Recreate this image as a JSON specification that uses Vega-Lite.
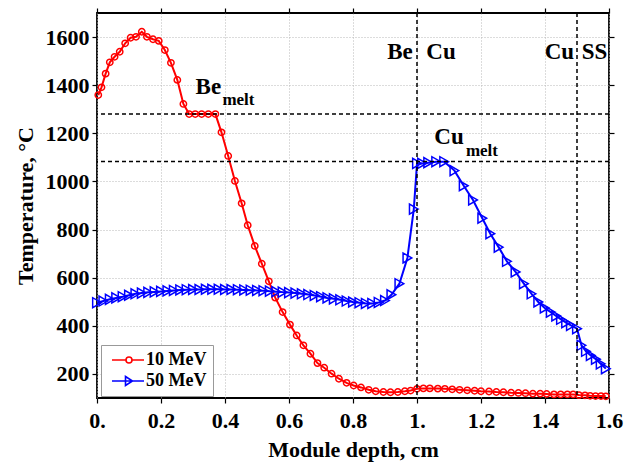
{
  "$schema": "https://vega.github.io/schema/vega-lite/v6.json",
  "width": 512,
  "height": 385,
  "autosize": "none",
  "padding": {"left": 97, "top": 13, "right": 15, "bottom": 66},
  "background": "white",
  "config": {
    "font": "Liberation Serif",
    "view": {"stroke": "black", "strokeWidth": 1.8},
    "axis": {
      "domain": false,
      "ticks": true,
      "tickSize": 5,
      "tickColor": "black",
      "tickWidth": 1.2,
      "labelFont": "Liberation Serif",
      "labelFontWeight": "bold",
      "labelFontSize": 22,
      "labelColor": "black",
      "titleFont": "Liberation Serif",
      "titleFontWeight": "bold",
      "titleFontSize": 22,
      "titleColor": "black",
      "grid": false
    }
  },
  "datasets": {
    "curves": [
      {"s": "10 MeV", "x": 0.004, "y": 1359}, {"s": "10 MeV", "x": 0.014, "y": 1391}, {"s": "10 MeV", "x": 0.027, "y": 1448},
      {"s": "10 MeV", "x": 0.04, "y": 1495}, {"s": "10 MeV", "x": 0.055, "y": 1518}, {"s": "10 MeV", "x": 0.071, "y": 1539},
      {"s": "10 MeV", "x": 0.088, "y": 1574}, {"s": "10 MeV", "x": 0.105, "y": 1597}, {"s": "10 MeV", "x": 0.122, "y": 1601},
      {"s": "10 MeV", "x": 0.14, "y": 1622}, {"s": "10 MeV", "x": 0.156, "y": 1601}, {"s": "10 MeV", "x": 0.175, "y": 1591},
      {"s": "10 MeV", "x": 0.193, "y": 1584}, {"s": "10 MeV", "x": 0.212, "y": 1546}, {"s": "10 MeV", "x": 0.231, "y": 1493},
      {"s": "10 MeV", "x": 0.251, "y": 1422}, {"s": "10 MeV", "x": 0.27, "y": 1322}, {"s": "10 MeV", "x": 0.288, "y": 1280},
      {"s": "10 MeV", "x": 0.307, "y": 1280}, {"s": "10 MeV", "x": 0.327, "y": 1280}, {"s": "10 MeV", "x": 0.348, "y": 1280},
      {"s": "10 MeV", "x": 0.37, "y": 1280}, {"s": "10 MeV", "x": 0.389, "y": 1204}, {"s": "10 MeV", "x": 0.41, "y": 1106},
      {"s": "10 MeV", "x": 0.431, "y": 1002}, {"s": "10 MeV", "x": 0.452, "y": 909}, {"s": "10 MeV", "x": 0.471, "y": 818},
      {"s": "10 MeV", "x": 0.493, "y": 732}, {"s": "10 MeV", "x": 0.515, "y": 658}, {"s": "10 MeV", "x": 0.537, "y": 585},
      {"s": "10 MeV", "x": 0.557, "y": 517}, {"s": "10 MeV", "x": 0.58, "y": 457}, {"s": "10 MeV", "x": 0.603, "y": 405},
      {"s": "10 MeV", "x": 0.624, "y": 360}, {"s": "10 MeV", "x": 0.645, "y": 319}, {"s": "10 MeV", "x": 0.667, "y": 284},
      {"s": "10 MeV", "x": 0.689, "y": 245}, {"s": "10 MeV", "x": 0.71, "y": 226}, {"s": "10 MeV", "x": 0.733, "y": 201},
      {"s": "10 MeV", "x": 0.756, "y": 180}, {"s": "10 MeV", "x": 0.78, "y": 163}, {"s": "10 MeV", "x": 0.802, "y": 152},
      {"s": "10 MeV", "x": 0.825, "y": 144}, {"s": "10 MeV", "x": 0.849, "y": 134}, {"s": "10 MeV", "x": 0.871, "y": 128},
      {"s": "10 MeV", "x": 0.895, "y": 125}, {"s": "10 MeV", "x": 0.917, "y": 124}, {"s": "10 MeV", "x": 0.94, "y": 125},
      {"s": "10 MeV", "x": 0.962, "y": 128}, {"s": "10 MeV", "x": 0.98, "y": 131}, {"s": "10 MeV", "x": 1.0, "y": 138},
      {"s": "10 MeV", "x": 1.02, "y": 140}, {"s": "10 MeV", "x": 1.04, "y": 140}, {"s": "10 MeV", "x": 1.065, "y": 139},
      {"s": "10 MeV", "x": 1.087, "y": 138}, {"s": "10 MeV", "x": 1.11, "y": 136}, {"s": "10 MeV", "x": 1.133, "y": 134},
      {"s": "10 MeV", "x": 1.157, "y": 132}, {"s": "10 MeV", "x": 1.18, "y": 130}, {"s": "10 MeV", "x": 1.2, "y": 128},
      {"s": "10 MeV", "x": 1.225, "y": 127}, {"s": "10 MeV", "x": 1.248, "y": 125}, {"s": "10 MeV", "x": 1.27, "y": 124},
      {"s": "10 MeV", "x": 1.294, "y": 122}, {"s": "10 MeV", "x": 1.317, "y": 121}, {"s": "10 MeV", "x": 1.339, "y": 120},
      {"s": "10 MeV", "x": 1.362, "y": 118}, {"s": "10 MeV", "x": 1.385, "y": 118}, {"s": "10 MeV", "x": 1.405, "y": 117},
      {"s": "10 MeV", "x": 1.428, "y": 115}, {"s": "10 MeV", "x": 1.449, "y": 115}, {"s": "10 MeV", "x": 1.47, "y": 115},
      {"s": "10 MeV", "x": 1.488, "y": 115}, {"s": "10 MeV", "x": 1.506, "y": 112}, {"s": "10 MeV", "x": 1.525, "y": 111},
      {"s": "10 MeV", "x": 1.541, "y": 109}, {"s": "10 MeV", "x": 1.558, "y": 108}, {"s": "10 MeV", "x": 1.575, "y": 108},
      {"s": "10 MeV", "x": 1.59, "y": 107},
      {"s": "50 MeV", "x": 0.0, "y": 496}, {"s": "50 MeV", "x": 0.02, "y": 503}, {"s": "50 MeV", "x": 0.04, "y": 510},
      {"s": "50 MeV", "x": 0.06, "y": 516}, {"s": "50 MeV", "x": 0.08, "y": 521}, {"s": "50 MeV", "x": 0.1, "y": 527},
      {"s": "50 MeV", "x": 0.12, "y": 533}, {"s": "50 MeV", "x": 0.14, "y": 536}, {"s": "50 MeV", "x": 0.16, "y": 539},
      {"s": "50 MeV", "x": 0.18, "y": 541}, {"s": "50 MeV", "x": 0.2, "y": 543}, {"s": "50 MeV", "x": 0.22, "y": 545},
      {"s": "50 MeV", "x": 0.24, "y": 547}, {"s": "50 MeV", "x": 0.26, "y": 549}, {"s": "50 MeV", "x": 0.28, "y": 550},
      {"s": "50 MeV", "x": 0.3, "y": 551}, {"s": "50 MeV", "x": 0.32, "y": 551}, {"s": "50 MeV", "x": 0.34, "y": 552},
      {"s": "50 MeV", "x": 0.36, "y": 552}, {"s": "50 MeV", "x": 0.38, "y": 552}, {"s": "50 MeV", "x": 0.4, "y": 551},
      {"s": "50 MeV", "x": 0.42, "y": 551}, {"s": "50 MeV", "x": 0.44, "y": 550}, {"s": "50 MeV", "x": 0.46, "y": 549},
      {"s": "50 MeV", "x": 0.48, "y": 548}, {"s": "50 MeV", "x": 0.5, "y": 547}, {"s": "50 MeV", "x": 0.52, "y": 546},
      {"s": "50 MeV", "x": 0.54, "y": 544}, {"s": "50 MeV", "x": 0.56, "y": 542}, {"s": "50 MeV", "x": 0.58, "y": 540},
      {"s": "50 MeV", "x": 0.6, "y": 538}, {"s": "50 MeV", "x": 0.62, "y": 536}, {"s": "50 MeV", "x": 0.64, "y": 533},
      {"s": "50 MeV", "x": 0.66, "y": 530}, {"s": "50 MeV", "x": 0.68, "y": 526}, {"s": "50 MeV", "x": 0.7, "y": 521},
      {"s": "50 MeV", "x": 0.72, "y": 516}, {"s": "50 MeV", "x": 0.74, "y": 512}, {"s": "50 MeV", "x": 0.76, "y": 508},
      {"s": "50 MeV", "x": 0.78, "y": 503}, {"s": "50 MeV", "x": 0.8, "y": 499}, {"s": "50 MeV", "x": 0.82, "y": 496},
      {"s": "50 MeV", "x": 0.84, "y": 493}, {"s": "50 MeV", "x": 0.86, "y": 493}, {"s": "50 MeV", "x": 0.88, "y": 497},
      {"s": "50 MeV", "x": 0.9, "y": 505}, {"s": "50 MeV", "x": 0.92, "y": 529}, {"s": "50 MeV", "x": 0.945, "y": 575},
      {"s": "50 MeV", "x": 0.97, "y": 682}, {"s": "50 MeV", "x": 0.99, "y": 885}, {"s": "50 MeV", "x": 1.0, "y": 1075},
      {"s": "50 MeV", "x": 1.016, "y": 1075}, {"s": "50 MeV", "x": 1.035, "y": 1078}, {"s": "50 MeV", "x": 1.06, "y": 1082},
      {"s": "50 MeV", "x": 1.085, "y": 1082}, {"s": "50 MeV", "x": 1.117, "y": 1045}, {"s": "50 MeV", "x": 1.146, "y": 982},
      {"s": "50 MeV", "x": 1.175, "y": 923}, {"s": "50 MeV", "x": 1.204, "y": 847}, {"s": "50 MeV", "x": 1.229, "y": 783},
      {"s": "50 MeV", "x": 1.255, "y": 727}, {"s": "50 MeV", "x": 1.281, "y": 668}, {"s": "50 MeV", "x": 1.308, "y": 624},
      {"s": "50 MeV", "x": 1.334, "y": 575}, {"s": "50 MeV", "x": 1.358, "y": 533}, {"s": "50 MeV", "x": 1.379, "y": 499},
      {"s": "50 MeV", "x": 1.399, "y": 474}, {"s": "50 MeV", "x": 1.418, "y": 457}, {"s": "50 MeV", "x": 1.435, "y": 441},
      {"s": "50 MeV", "x": 1.45, "y": 427}, {"s": "50 MeV", "x": 1.466, "y": 413}, {"s": "50 MeV", "x": 1.481, "y": 402},
      {"s": "50 MeV", "x": 1.5, "y": 388}, {"s": "50 MeV", "x": 1.514, "y": 319}, {"s": "50 MeV", "x": 1.528, "y": 294},
      {"s": "50 MeV", "x": 1.543, "y": 277}, {"s": "50 MeV", "x": 1.559, "y": 261}, {"s": "50 MeV", "x": 1.574, "y": 242},
      {"s": "50 MeV", "x": 1.59, "y": 222}
    ]
  },
  "layer": [
    {
      "data": {"name": "curves"},
      "transform": [{"filter": "datum.s == '10 MeV'"}],
      "mark": {"type": "line", "strokeWidth": 2, "clip": false, "color": "#ff0000"},
      "encoding": {
        "x": {
          "field": "x", "type": "quantitative",
          "scale": {"domain": [0, 1.6], "nice": false, "zero": false},
          "axis": {
            "orient": "bottom",
            "values": [0, 0.2, 0.4, 0.6, 0.8, 1, 1.2, 1.4, 1.6],
            "labelExpr": "datum.value == 0 ? '0.' : datum.value == 1 ? '1.' : format(datum.value, '.1f')",
            "grid": true, "gridColor": "#b8b8b8", "gridDash": [1, 2], "gridWidth": 1,
            "labelPadding": 7, "labelFlush": false,
            "title": "Module depth, cm", "titlePadding": 8
          }
        },
        "y": {
          "field": "y", "type": "quantitative",
          "scale": {"domain": [100, 1700], "nice": false, "zero": false},
          "axis": {
            "orient": "left",
            "values": [200, 400, 600, 800, 1000, 1200, 1400, 1600],
            "format": "d",
            "grid": true, "gridColor": "#b8b8b8", "gridDash": [1, 2], "gridWidth": 1,
            "labelPadding": 3,
            "title": "Temperature, °C", "titlePadding": 8
          }
        }
      }
    },
    {
      "data": {"name": "curves"},
      "transform": [{"filter": "datum.s == '50 MeV'"}],
      "mark": {"type": "line", "strokeWidth": 2, "clip": false, "color": "#0000ff"},
      "encoding": {
        "x": {"field": "x", "type": "quantitative", "axis": null},
        "y": {"field": "y", "type": "quantitative", "axis": null}
      }
    },
    {
      "data": {"name": "curves"},
      "transform": [{"filter": "datum.s == '10 MeV'"}],
      "mark": {"type": "point", "shape": "circle", "filled": false, "strokeWidth": 1.5, "opacity": 1, "size": 40, "color": "#ff0000", "clip": false},
      "encoding": {
        "x": {"field": "x", "type": "quantitative", "axis": null},
        "y": {"field": "y", "type": "quantitative", "axis": null}
      }
    },
    {
      "data": {"name": "curves"},
      "transform": [{"filter": "datum.s == '50 MeV'"}],
      "mark": {"type": "point", "shape": "triangle-right", "filled": false, "strokeWidth": 1.5, "opacity": 1, "size": 100, "color": "#0000ff", "clip": false},
      "encoding": {
        "x": {"field": "x", "type": "quantitative", "axis": null},
        "y": {"field": "y", "type": "quantitative", "axis": null}
      }
    },
    {
      "data": {"name": "curves"},
      "transform": [{"filter": "false"}],
      "mark": {"type": "point", "filled": false, "strokeWidth": 1.6},
      "encoding": {
        "x": {"field": "x", "type": "quantitative", "axis": null},
        "y": {"field": "y", "type": "quantitative", "axis": null},
        "color": {
          "field": "s", "type": "nominal",
          "scale": {"domain": ["10 MeV", "50 MeV"], "range": ["#ff0000", "#0000ff"]},
          "legend": {
            "title": null,
            "orient": "none",
            "legendX": 4,
            "legendY": 332,
            "direction": "vertical",
            "fillColor": "white",
            "strokeColor": "#999999",
            "padding": 6,
            "symbolSize": 100,
            "symbolStrokeWidth": 1.6,
            "symbolFillColor": "transparent",
            "symbolOpacity": 1,
            "labelOffset": 21,
            "labelFont": "Liberation Serif",
            "labelFontWeight": "bold",
            "labelFontSize": 18,
            "labelColor": "black",
            "rowPadding": 3
          }
        },
        "shape": {
          "field": "s", "type": "nominal",
          "scale": {"domain": ["10 MeV", "50 MeV"], "range": ["M-0.8,0H2M3.2,0H5.6M3.2,0A0.6,0.6 0 1,1 2,0A0.6,0.6 0 1,1 3.2,0", "M-0.8,0H5.6M1.9,-0.9L3.3,0L1.9,0.9Z"]},
          "legend": {
            "title": null,
            "orient": "none",
            "legendX": 4,
            "legendY": 332,
            "direction": "vertical",
            "fillColor": "white",
            "strokeColor": "#999999",
            "padding": 6,
            "symbolSize": 100,
            "symbolStrokeWidth": 1.6,
            "symbolFillColor": "transparent",
            "symbolOpacity": 1,
            "labelOffset": 21,
            "labelFont": "Liberation Serif",
            "labelFontWeight": "bold",
            "labelFontSize": 18,
            "labelColor": "black",
            "rowPadding": 3
          }
        }
      }
    },
    {
      "data": {"values": [{"t": 1280}, {"t": 1083}]},
      "mark": {"type": "rule", "color": "black", "strokeWidth": 1.5, "strokeDash": [4, 3]},
      "encoding": {
        "y": {
          "field": "t", "type": "quantitative",
          "axis": {"orient": "right", "values": [200, 400, 600, 800, 1000, 1200, 1400, 1600], "labels": false, "title": null, "grid": false}
        }
      }
    },
    {
      "data": {"values": [{"d": 1.0}, {"d": 1.5}]},
      "mark": {"type": "rule", "color": "black", "strokeWidth": 1.5, "strokeDash": [4, 3]},
      "encoding": {
        "x": {
          "field": "d", "type": "quantitative",
          "axis": {"orient": "top", "values": [0, 0.2, 0.4, 0.6, 0.8, 1, 1.2, 1.4, 1.6], "labels": false, "title": null, "grid": false}
        }
      }
    },
    {
      "data": {"values": [
        {"label": "Be", "x": 0.947, "y": 1538},
        {"label": "Cu", "x": 1.075, "y": 1538},
        {"label": "Cu", "x": 1.445, "y": 1538},
        {"label": "SS", "x": 1.555, "y": 1538},
        {"label": "Be", "x": 0.348, "y": 1392},
        {"label": "Cu", "x": 1.1, "y": 1185}
      ]},
      "mark": {"type": "text", "font": "Liberation Serif", "fontWeight": "bold", "fontSize": 23, "color": "black", "baseline": "middle", "align": "center"},
      "encoding": {
        "x": {"field": "x", "type": "quantitative", "axis": null},
        "y": {"field": "y", "type": "quantitative", "axis": null},
        "text": {"field": "label"}
      }
    },
    {
      "data": {"values": [
        {"label": "melt", "x": 0.442, "y": 1338},
        {"label": "melt", "x": 1.203, "y": 1126}
      ]},
      "mark": {"type": "text", "font": "Liberation Serif", "fontWeight": "bold", "fontSize": 17, "color": "black", "baseline": "middle", "align": "center"},
      "encoding": {
        "x": {"field": "x", "type": "quantitative", "axis": null},
        "y": {"field": "y", "type": "quantitative", "axis": null},
        "text": {"field": "label"}
      }
    }
  ],
  "resolve": {"axis": {"x": "independent", "y": "independent"}}
}
